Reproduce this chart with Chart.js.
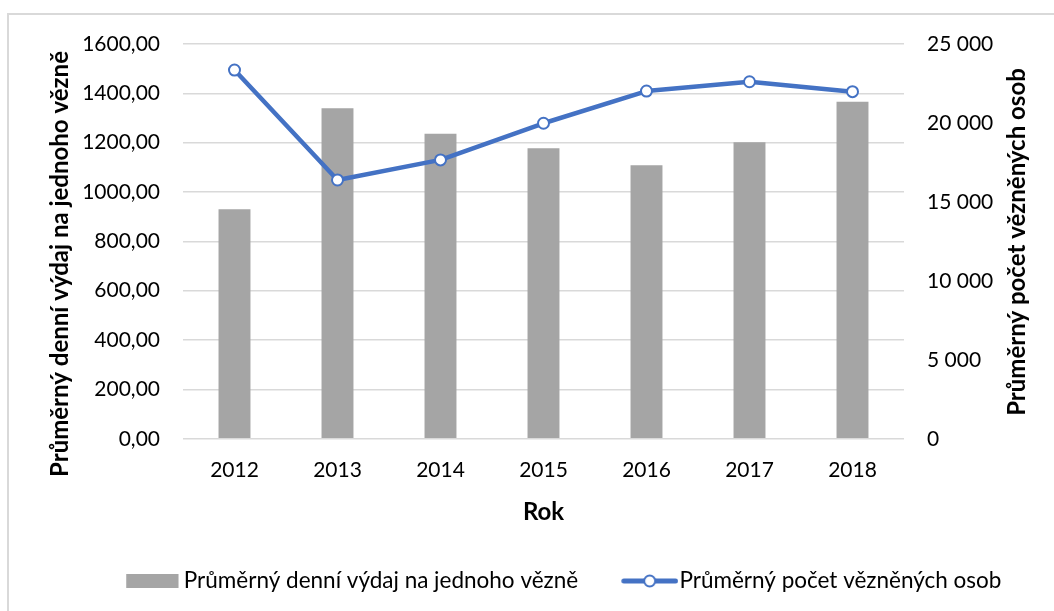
<!DOCTYPE html>
<html><head><meta charset="utf-8">
<script src="https://cdn.jsdelivr.net/npm/chart.js@4.4.1/dist/chart.umd.min.js"></script>
<style>
html,body{margin:0;padding:0;background:#fff;}
#wrap{position:relative;width:1054px;height:611px;overflow:hidden;background:#fff;}
#frame{position:absolute;left:7px;top:13px;width:2000px;height:2000px;border-left:2px solid #d9d9d9;border-top:2px solid #d9d9d9;}
#c{position:absolute;left:0;top:0;}
</style></head><body>
<div id="wrap"><div id="frame"></div><canvas id="c" width="1054" height="611"></canvas></div>
<script>
// ---- data ----
const years = ['2012', '2013', '2014', '2015', '2016', '2017', '2018'];
const dailyCost = [930, 1340, 1236, 1177, 1109, 1202, 1366];
const prisoners = [23350, 16390, 17660, 19980, 22020, 22610, 21980];
const costLabel = 'Průměrný denní výdaj na jednoho vězně';
const prisonersLabel = 'Průměrný počet vězněných osob';
const xTitle = 'Rok';

// ---- styling / layout ----
const FONT = 'Lato, "Open Sans", sans-serif';
const BAR_COLOR = '#A5A5A5';
const LINE_COLOR = '#4472C4';
const GRID_COLOR = '#d9d9d9';
const W = 1054, H = 611;
const PLOT_L = 183, PLOT_R = 904;
const TICK_F = 21;
const TITLE_F = 24;
const LEG_F = 22.5;         // legend font size
const LEG_BOX = 46;         // legend box width
const LEG_PAD = 44;         // gap between legend items
const PAD_L = 74;

function markerImage(kind) {
  const T = LEG_BOX + LEG_F / 2;          // text offset from box x
  const c = LEG_BOX / 2;
  let a, b;
  if (kind === 'bar') { a = T - 57.3; b = T - 5; } else { a = T - 58; b = T - 1.3; }
  const h = Math.max(c - a, b - c);
  const cv = document.createElement('canvas');
  cv.width = Math.ceil(2 * h); cv.height = 16;
  const g = cv.getContext('2d');
  const x0 = a - c + h, x1 = b - c + h;
  if (kind === 'bar') {
    g.fillStyle = BAR_COLOR;
    g.fillRect(x0, 1, x1 - x0, 14);
  } else {
    g.strokeStyle = LINE_COLOR; g.lineWidth = 5; g.lineCap = 'round';
    g.beginPath(); g.moveTo(x0 + 2.5, 8); g.lineTo(x1 - 2.5, 8); g.stroke();
    g.beginPath(); g.arc((x0 + x1) / 2, 8, 5.5, 0, Math.PI * 2);
    g.fillStyle = '#fff'; g.fill(); g.lineWidth = 2; g.stroke();
  }
  return cv;
}
const barMarker = markerImage('bar');
const lineMarker = markerImage('line');

const fmtCost = v => v.toFixed(2).replace('.', ',');
const fmtCount = v => String(v).replace(/\B(?=(\d{3})+(?!\d))/g, ' ');

// vertical axis titles, both reading bottom-to-top as in the original
const axisTitles = {
  id: 'axisTitles',
  afterDraw(chart) {
    const ctx = chart.ctx;
    ctx.save();
    ctx.font = `bold ${TITLE_F}px ${FONT}`;
    ctx.fillStyle = '#000';
    ctx.textAlign = 'center';
    ctx.textBaseline = 'middle';
    const draw = (t, x, y) => {
      ctx.save(); ctx.translate(x, y); ctx.rotate(-Math.PI / 2); ctx.fillText(t, 0, 0); ctx.restore();
    };
    draw(costLabel, 60, 264);
    draw(prisonersLabel, 1017, 242);
    ctx.restore();
  }
};

new Chart(document.getElementById('c'), {
  data: {
    labels: years,
    datasets: [
      { type: 'bar', label: costLabel, data: dailyCost, backgroundColor: BAR_COLOR,
        yAxisID: 'yL', order: 1, barPercentage: 0.31, categoryPercentage: 1 },
      { type: 'line', label: prisonersLabel, data: prisoners, borderColor: LINE_COLOR,
        backgroundColor: '#fff', borderWidth: 4.5, tension: 0, yAxisID: 'yR', order: 0,
        pointRadius: 5.5, pointBorderWidth: 2, pointBackgroundColor: '#fff',
        pointBorderColor: LINE_COLOR, borderJoinStyle: 'round', borderCapStyle: 'round' }
    ]
  },
  plugins: [axisTitles],
  options: {
    responsive: false, devicePixelRatio: 1, animation: false,
    layout: { padding: { left: PAD_L, right: 0, top: 44, bottom: 20 - LEG_F / 2 } },
    plugins: {
      tooltip: { enabled: false },
      legend: {
        position: 'bottom', align: 'center',
        labels: {
          usePointStyle: true, pointStyleWidth: LEG_BOX, padding: LEG_PAD,
          color: '#000', font: { family: FONT, size: LEG_F },
          generateLabels: () => [
            { text: costLabel, pointStyle: barMarker, datasetIndex: 0, fontColor: '#000', lineWidth: 0 },
            { text: prisonersLabel, pointStyle: lineMarker, datasetIndex: 1, fontColor: '#000', lineWidth: 0 }
          ]
        }
      }
    },
    scales: {
      x: {
        type: 'category', offset: true,
        grid: { display: false, drawTicks: false }, border: { display: false },
        ticks: { color: '#000', font: { family: FONT, size: TICK_F }, padding: 18.4, maxRotation: 0 },
        title: { display: true, text: xTitle, color: '#000',
                 font: { family: FONT, size: TITLE_F, weight: 'bold' }, padding: { top: 0, bottom: -1.4 } },
        afterFit: s => { s.height = 87; }
      },
      yL: {
        position: 'left', min: 0, max: 1600,
        grid: { color: GRID_COLOR, lineWidth: 1.5, drawTicks: false }, border: { display: false },
        ticks: { stepSize: 200, color: '#000', font: { family: FONT, size: TICK_F }, padding: 23,
                 callback: v => fmtCost(v) },
        title: { display: false },
        afterFit: s => { s.width = PLOT_L - PAD_L; }
      },
      yR: {
        position: 'right', min: 0, max: 25000,
        grid: { display: false, drawTicks: false }, border: { display: false },
        ticks: { stepSize: 5000, color: '#000', font: { family: FONT, size: TICK_F }, padding: 23,
                 callback: v => fmtCount(v) },
        title: { display: false },
        afterFit: s => { s.width = W - PLOT_R; }
      }
    }
  }
});
</script>
</body></html>
